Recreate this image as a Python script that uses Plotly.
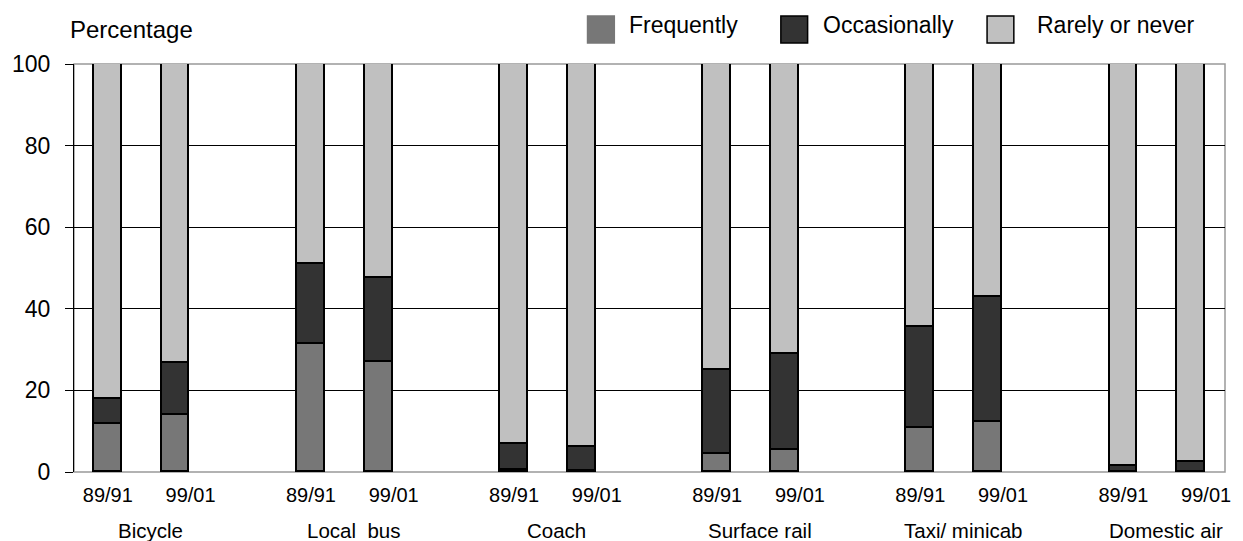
import plotly.graph_objects as go

# ---- data ----
modes = ["Bicycle", "Local  bus", "Coach", "Surface rail", "Taxi/ minicab", "Domestic air"]
periods = ["89/91", "99/01"]
frequently = [11.7, 14.0, 31.3, 26.9, 0.4, 0.3, 4.3, 5.4, 10.8, 12.2, 0.0, 0.0]
occasionally = [6.3, 12.6, 19.7, 20.6, 6.5, 5.9, 20.7, 23.5, 24.8, 30.8, 1.5, 2.5]
rarely = [82.0, 73.4, 49.0, 52.5, 93.1, 93.8, 75.0, 71.1, 64.4, 57.0, 98.5, 97.5]
y_ticks = [0, 20, 40, 60, 80, 100]

# ---- layout constants (pixels) ----
W, H = 1243, 541
ML, MR, MT, MB = 70, 12, 64, 69
PW, PH = W - ML - MR, H - MT - MB
FONT = "Liberation Sans, Arial, sans-serif"

n_per = len(periods)
slot = n_per + 1  # one empty slot between groups
xs = [g * slot + p for g in range(len(modes)) for p in range(n_per)]
labels = [periods[p] for g in range(len(modes)) for p in range(n_per)]
xmax = (len(modes) - 1) * slot + n_per - 1

series = [
    ("Frequently", frequently, "#777777"),
    ("Occasionally", occasionally, "#333333"),
    ("Rarely or never", rarely, "#c0c0c0"),
]

fig = go.Figure()
for name, vals, col in series:
    fig.add_trace(go.Bar(
        x=xs, y=vals, name=name, width=0.41,
        marker=dict(color=col, line=dict(color="#000000", width=1.6)),
        showlegend=False,
    ))


def px_x(px):
    return (px - ML) / PW


def px_y(py):
    return (H - MB - py) / PH


shapes = [dict(type="rect", xref="paper", yref="paper", x0=0, x1=1, y0=0, y1=1,
               line=dict(color="#999999", width=1.5), layer="between")]
annotations = []

# manual legend
leg = [(588, 628, False), (783, 823, True), (991, 1039, True)]
for (name, _, col), (sx, tx, border) in zip(series, leg):
    shapes.append(dict(type="rect", xref="paper", yref="paper",
                       x0=px_x(sx), x1=px_x(sx + 27), y0=px_y(43), y1=px_y(16),
                       fillcolor=col,
                       line=dict(color="#000000" if border else col, width=1.5)))
    annotations.append(dict(text=name, xref="paper", yref="paper", x=px_x(tx), y=px_y(25),
                            xanchor="left", yanchor="middle", showarrow=False,
                            font=dict(family=FONT, size=23, color="#000")))

annotations.append(dict(text="Percentage", xref="paper", yref="paper", x=px_x(64), y=px_y(29),
                        xanchor="left", yanchor="middle", showarrow=False,
                        font=dict(family=FONT, size=24, color="#000")))

for g, m in enumerate(modes):
    annotations.append(dict(text=m, xref="x", yref="paper", x=g * slot + (n_per - 1) / 2,
                            y=0, xshift=9, yshift=-58, xanchor="center", yanchor="middle",
                            showarrow=False, font=dict(family=FONT, size=20.5, color="#000")))

first = [x for x, l in zip(xs, labels) if l == periods[0]]
second = [x for x, l in zip(xs, labels) if l == periods[1]]

fig.update_layout(
    width=W, height=H,
    margin=dict(l=ML, r=MR, t=MT, b=MB, pad=0),
    paper_bgcolor="white", plot_bgcolor="white",
    barmode="stack", bargap=0,
    font=dict(family=FONT, size=20, color="#000"),
    shapes=shapes, annotations=annotations,
    xaxis=dict(range=[-0.5, xmax + 0.5], tickmode="array", tickvals=first,
               ticktext=[periods[0]] * len(first), showgrid=False, zeroline=False,
               showline=False, ticks="", ticklabelstandoff=9, tickfont=dict(size=20)),
    xaxis2=dict(overlaying="x", matches="x", side="bottom", range=[-0.5, xmax + 0.5],
                tickmode="array", tickvals=second, ticktext=[periods[1]] * len(second),
                showgrid=False, zeroline=False, showline=False, ticks="",
                ticklabelstandoff=9, ticklabelshift=15, tickfont=dict(size=20)),
    yaxis=dict(range=[0, 100], tickmode="array", tickvals=y_ticks, showgrid=True,
               gridcolor="#000000", gridwidth=1, zeroline=False, showline=True,
               linecolor="#000000", linewidth=1, ticks="outside", ticklen=8,
               tickcolor="#000000", ticklabelstandoff=10, tickfont=dict(size=23)),
)
# invisible trace to activate xaxis2
fig.add_trace(go.Scatter(x=[second[0]], y=[0], xaxis="x2", mode="markers",
                         marker=dict(opacity=0), showlegend=False, hoverinfo="skip"))

fig.write_html("out.html", config={"displayModeBar": False},
               post_script="document.body.style.margin='0';document.body.style.overflow='hidden';")
